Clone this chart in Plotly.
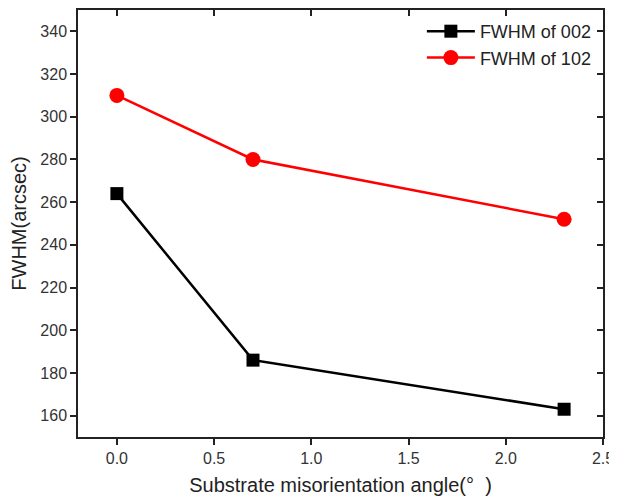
import plotly.graph_objects as go

angles = [0.0, 0.7, 2.3]
fwhm_002 = [264, 186, 163]
fwhm_102 = [310, 280, 252]
x_ticks = [0.0, 0.5, 1.0, 1.5, 2.0, 2.5]
x_ticktext = ["0.0", "0.5", "1.0", "1.5", "2.0", "2.5"]
y_ticks = [160, 180, 200, 220, 240, 260, 280, 300, 320, 340]

FONT = "Liberation Sans, Arial, sans-serif"

fig = go.Figure()
fig.add_trace(go.Scatter(
    x=angles, y=fwhm_002, mode="lines+markers", name="FWHM of 002",
    line=dict(color="black", width=2.5),
    marker=dict(symbol="square", size=13, color="black"),
))
fig.add_trace(go.Scatter(
    x=angles, y=fwhm_102, mode="lines+markers", name="FWHM of 102",
    line=dict(color="#ff0000", width=2.5),
    marker=dict(symbol="circle", size=15, color="#ff0000"),
))
# invisible trace to host the mirrored (inward-tick) axes
fig.add_trace(go.Scatter(
    x=[angles[0]], y=[fwhm_102[0]], xaxis="x2", yaxis="y2",
    mode="markers", marker=dict(opacity=0), showlegend=False, hoverinfo="skip",
))

axis_common = dict(
    showgrid=False, zeroline=False, showline=True, linecolor="#222",
    linewidth=1.5, tickcolor="#222", tickwidth=1.5, automargin=False,
)

# page body has an 8px margin, so the figure is sized to fit the window
fig.update_layout(
    width=609, height=488,
    margin=dict(l=70, r=14, t=2, b=59),
    paper_bgcolor="white", plot_bgcolor="white",
    font=dict(family=FONT, color="#222"),
    xaxis=dict(
        range=[-0.2, 2.5], tickvals=x_ticks, ticktext=x_ticktext,
        ticks="outside", ticklen=6,
        tickfont=dict(size=16, family=FONT, color="#333"),
        title=dict(text="Substrate misorientation angle(°  )",
                   font=dict(size=20, family=FONT, color="#222"), standoff=20),
        **axis_common,
    ),
    yaxis=dict(
        range=[150, 350], tickvals=y_ticks,
        ticks="outside", ticklen=6,
        tickfont=dict(size=16, family=FONT, color="#333"),
        title=dict(text="FWHM(arcsec)",
                   font=dict(size=20, family=FONT, color="#222"), standoff=12),
        **axis_common,
    ),
    xaxis2=dict(
        range=[-0.2, 2.5], tickvals=x_ticks, overlaying="x", side="top",
        anchor="y2", ticks="inside", ticklen=6, showticklabels=False,
        **axis_common,
    ),
    yaxis2=dict(
        range=[150, 350], tickvals=y_ticks, overlaying="y", side="right",
        anchor="x2", ticks="inside", ticklen=6, showticklabels=False,
        **axis_common,
    ),
    legend=dict(
        x=0.655, y=0.993, xanchor="left", yanchor="top",
        bgcolor="rgba(0,0,0,0)", borderwidth=0,
        font=dict(size=18, family=FONT, color="#222"),
        tracegroupgap=0, itemwidth=48,
    ),
    showlegend=True,
)

fig.write_html("out.html")
